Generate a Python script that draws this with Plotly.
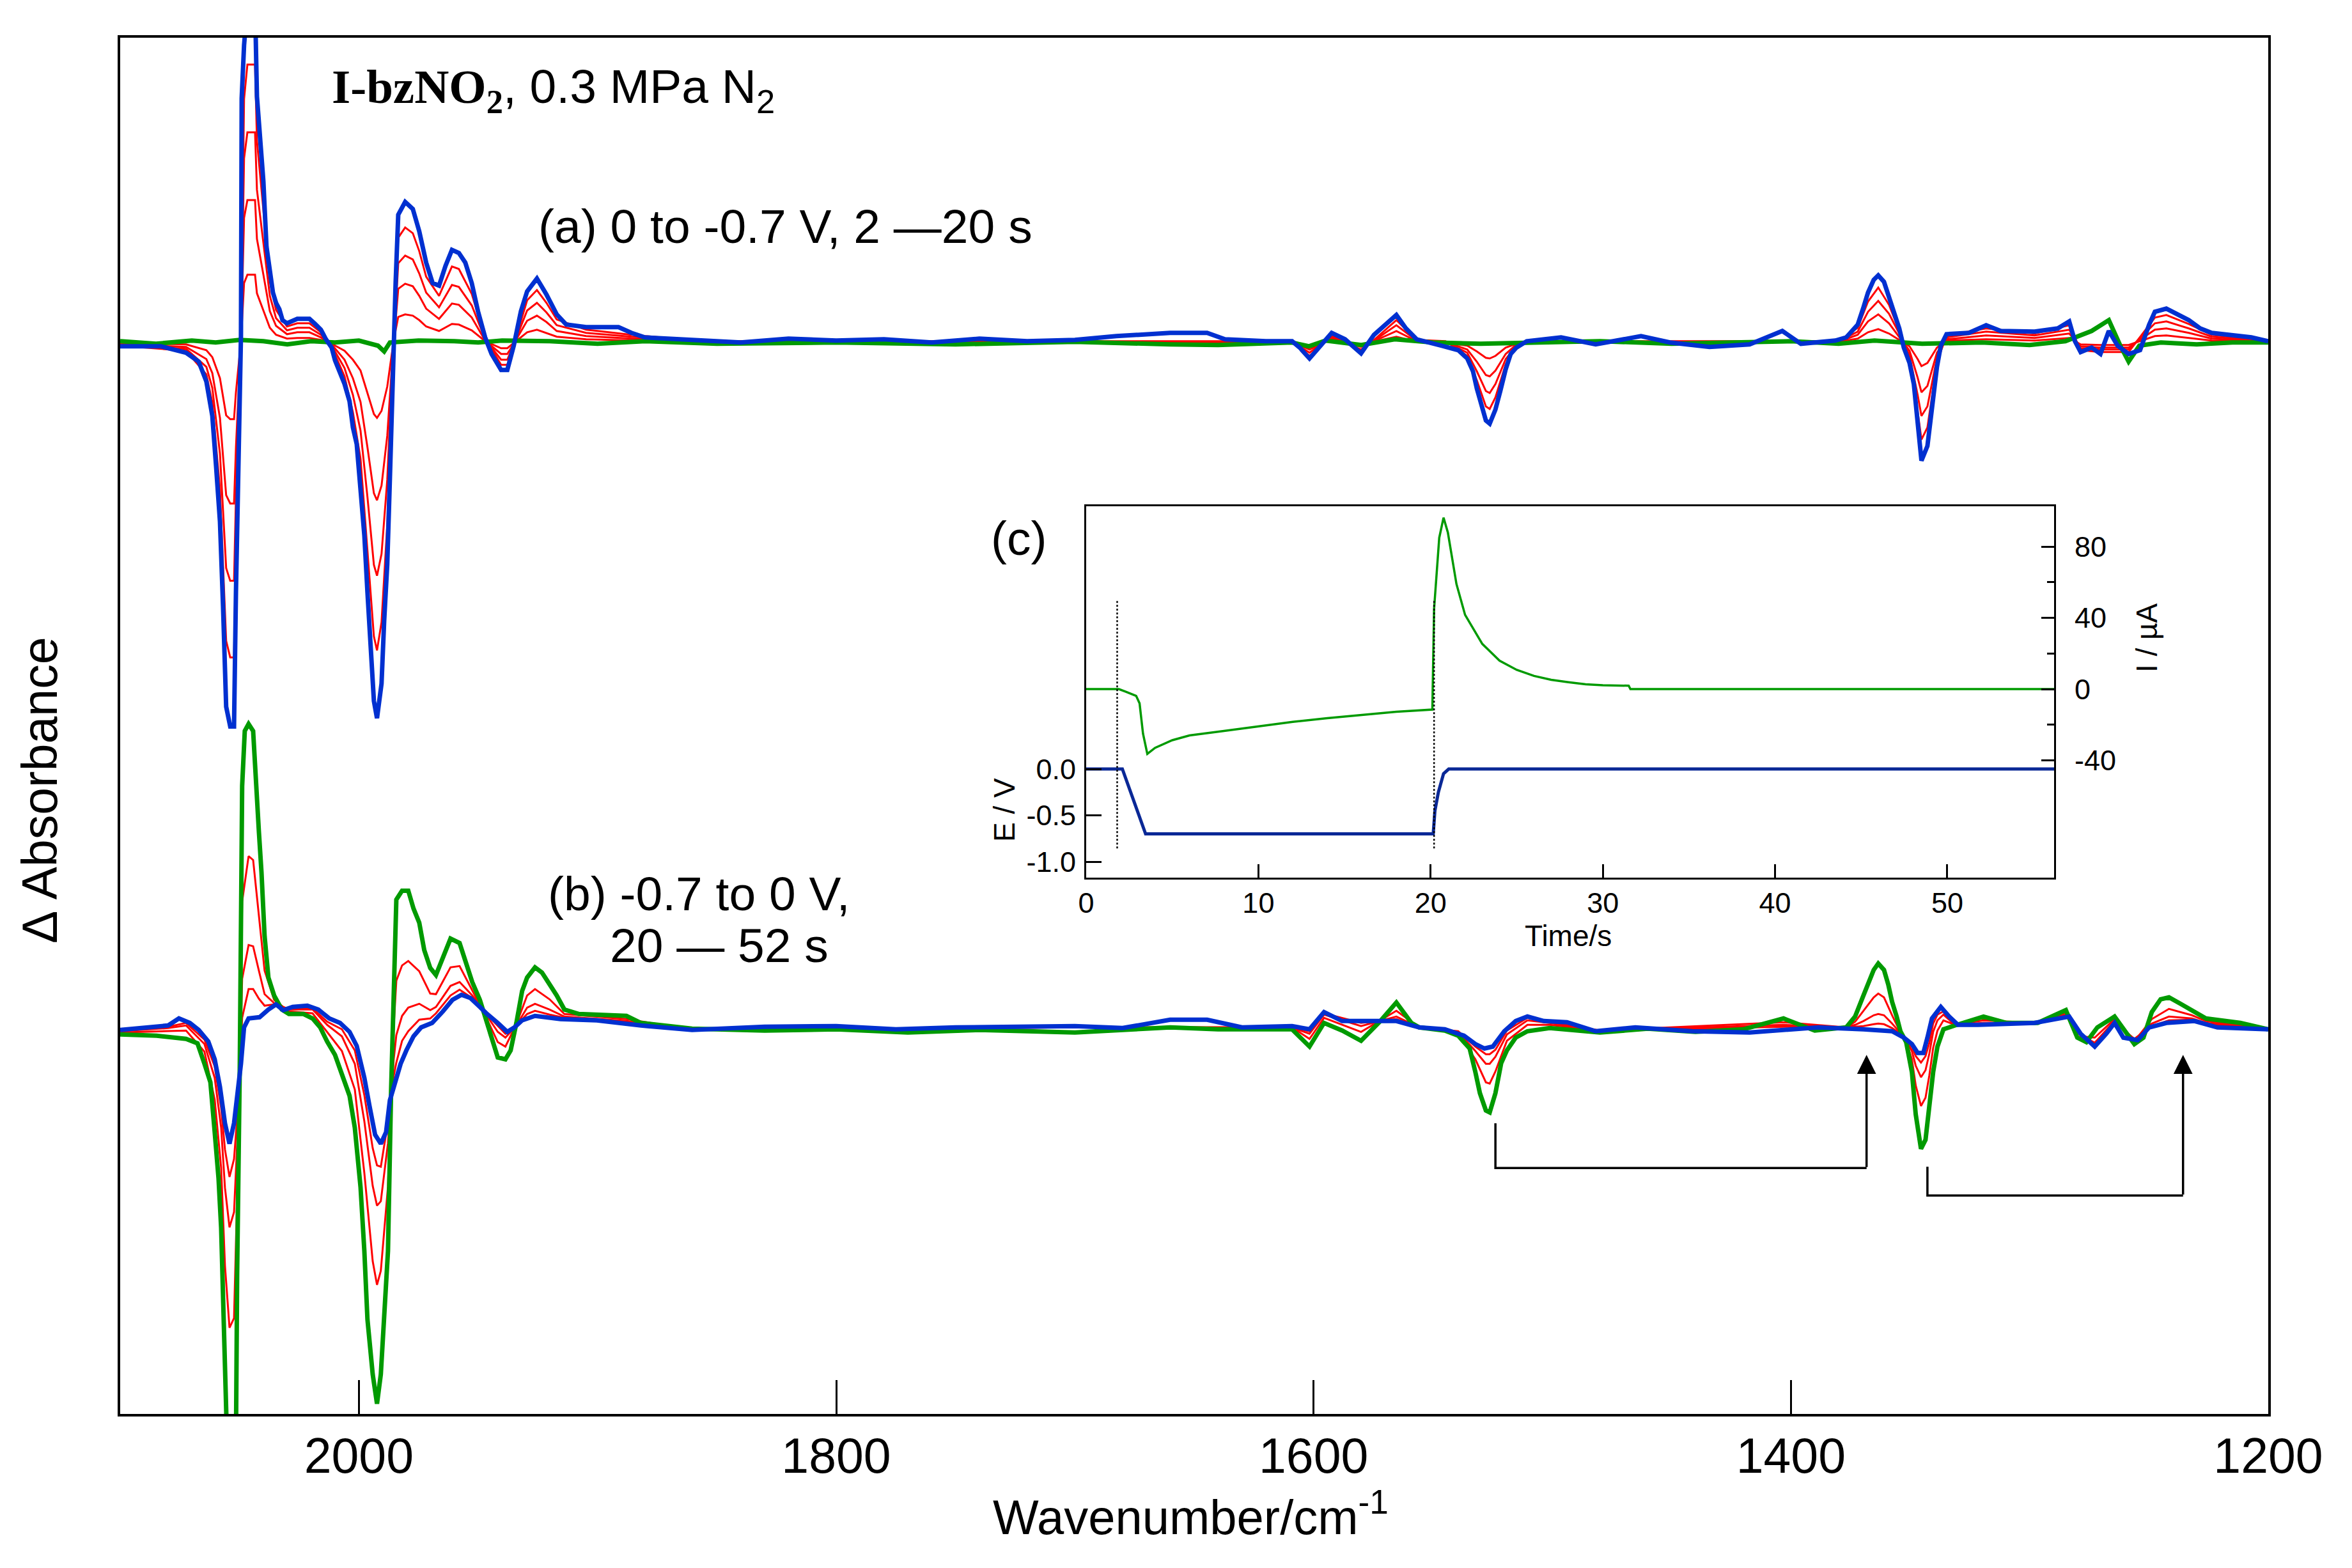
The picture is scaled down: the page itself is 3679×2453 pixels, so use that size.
import plotly.graph_objects as go

# ------------------------------------------------------------------
# DATA
# ------------------------------------------------------------------
# Panel (a): 0 to -0.7 V, 2-20 s.  Values in arbitrary Delta-A units.
wn_a_blue = [2100.0, 2082.9, 2072.4, 2067.1, 2063.9, 2061.4, 2059.8, 2058.2, 2056.9, 2055.6,
             2053.9, 2052.3, 2051.5, 2050.5, 2049.4, 2049.1, 2048.1, 2046.7, 2043.5, 2042.7,
             2041.4, 2040.0, 2038.7, 2037.3, 2036.0, 2034.7, 2033.3, 2032.0, 2030.1, 2025.8,
             2020.7, 2018.6, 2015.9, 2013.8, 2011.4, 2010.0, 2007.9, 2006.0, 2003.9, 2002.5,
             2000.9, 1999.3, 1997.7, 1996.4, 1994.8, 1993.7, 1992.4, 1990.5, 1989.4, 1988.1,
             1987.0, 1986.2, 1985.4, 1984.6, 1983.5, 1980.6, 1977.4, 1974.7, 1971.8, 1969.1,
             1966.4, 1963.7, 1961.0, 1958.1, 1955.4, 1952.7, 1950.1, 1947.1, 1944.4, 1940.4,
             1937.8, 1935.1, 1932.1, 1929.5, 1925.4, 1921.4, 1917.1, 1913.1, 1904.8, 1891.2,
             1885.8, 1880.2, 1855.3, 1840.0, 1820.0, 1800.0, 1780.0, 1760.0, 1740.0, 1720.0,
             1700.0, 1682.6, 1660.1, 1644.6, 1637.1, 1620.0, 1609.0, 1605.8, 1601.7, 1597.0,
             1592.4, 1586.8, 1580.1, 1574.7, 1565.3, 1561.3, 1556.8, 1546.3, 1539.4, 1535.6,
             1533.2, 1531.6, 1529.7, 1527.8, 1526.2, 1523.8, 1521.7, 1519.5, 1517.4, 1515.0,
             1510.7, 1496.3, 1481.8, 1462.8, 1450.7, 1434.1, 1417.3, 1403.6, 1395.8, 1381.4,
             1376.8, 1372.0, 1369.6, 1367.7, 1365.3, 1363.4, 1361.0, 1358.9, 1357.0, 1354.6,
             1352.7, 1350.3, 1348.5, 1346.9, 1345.3, 1342.8, 1340.9, 1338.8, 1337.2, 1334.8,
             1325.4, 1318.2, 1312.1, 1297.9, 1288.2, 1283.4, 1281.0, 1278.6, 1274.0, 1270.3,
             1266.8, 1263.1, 1258.5, 1253.7, 1249.9, 1247.5, 1242.7, 1238.2, 1233.3, 1228.5,
             1223.7, 1207.1, 1200.0]
abs_a_blue = [-0.06, -0.06, -0.16, -0.30, -0.61, -1.15, -1.95, -2.80, -4.14, -5.70,
              -6.01, -6.01, -3.91, -1.90, 0.10, 3.82, 4.65, 5.30, 5.30, 3.85,
              3.15, 2.52, 1.50, 1.17, 0.78, 0.62, 0.52, 0.35, 0.30, 0.37,
              0.37, 0.30, 0.20, 0.05, -0.08, -0.28, -0.48, -0.65, -0.92, -1.33,
              -1.59, -2.22, -3.02, -3.91, -4.81, -5.61, -5.88, -5.34, -4.36, -3.47,
              -2.13, -0.92, 0.33, 0.93, 2.00, 2.20, 2.09, 1.74, 1.25, 0.93,
              0.89, 1.20, 1.45, 1.40, 1.25, 0.93, 0.49, 0.08, -0.18, -0.43,
              -0.43, -0.05, 0.49, 0.80, 1.00, 0.75, 0.44, 0.28, 0.24, 0.24,
              0.15, 0.08, 0.03, 0.00, 0.06, 0.03, 0.05, 0.00, 0.06, 0.02,
              0.04, 0.10, 0.15, 0.15, 0.05, 0.02, 0.02, -0.08, -0.25, -0.05,
              0.15, 0.05, -0.17, 0.12, 0.43, 0.22, 0.05, -0.05, -0.12, -0.25,
              -0.45, -0.72, -0.98, -1.22, -1.27, -1.05, -0.75, -0.42, -0.18, -0.08,
              0.02, 0.08, -0.03, 0.10, 0.00, -0.07, -0.03, 0.18, -0.02, 0.03,
              0.08, 0.28, 0.55, 0.78, 0.98, 1.05, 0.95, 0.72, 0.48, 0.22,
              -0.08, -0.32, -0.65, -1.32, -1.85, -1.62, -0.98, -0.38, -0.05, 0.13,
              0.15, 0.27, 0.18, 0.17, 0.22, 0.33, 0.02, -0.15, -0.08, -0.18,
              0.18, -0.05, -0.18, -0.12, 0.28, 0.48, 0.53, 0.45, 0.35, 0.22,
              0.15, 0.08, 0.02]

wn_a_green = [2100, 2085, 2070, 2060, 2050, 2040, 2030, 2020, 2010, 2000,
              1992, 1989.4, 1987, 1975, 1960, 1950, 1940, 1920, 1900, 1880,
              1850, 1800, 1750, 1700, 1660, 1640, 1609, 1602, 1595, 1580,
              1566, 1550, 1530, 1510, 1480, 1450, 1420, 1400, 1380, 1365,
              1345, 1320, 1300, 1285, 1274, 1266.8, 1262, 1258.5, 1254, 1245,
              1230, 1215, 1200]
abs_a_green = [0.02, -0.02, 0.03, 0.00, 0.04, 0.02, -0.03, 0.02, 0.00, 0.03,
               -0.05, -0.14, 0.00, 0.03, 0.02, 0.00, 0.03, 0.02, -0.02, 0.02,
               -0.02, 0.00, -0.03, 0.01, -0.03, -0.04, 0.00, -0.06, 0.03, -0.04,
               0.05, 0.00, -0.02, 0.00, 0.02, -0.02, 0.00, 0.02, -0.02, 0.03,
               -0.02, 0.00, -0.04, 0.02, 0.18, 0.35, -0.05, -0.30, -0.05, 0.00,
               -0.03, 0.00, 0.00]

wn_a_red = [2100.0, 2072.4, 2063.9, 2061.4, 2058.2, 2055.6, 2053.9, 2052.3, 2051.5, 2050.5,
            2049.4, 2048.1, 2046.7, 2043.5, 2042.7, 2040.0, 2037.3, 2034.7, 2030.1, 2025.8,
            2020.7, 2015.9, 2011.4, 2006.0, 2002.5, 1999.3, 1996.4, 1993.7, 1992.4, 1990.5,
            1988.1, 1986.2, 1984.6, 1983.5, 1980.6, 1977.4, 1974.7, 1971.8, 1966.4, 1961.0,
            1958.1, 1952.7, 1947.1, 1940.4, 1937.8, 1935.1, 1929.5, 1925.4, 1921.4, 1917.1,
            1904.8, 1885.8, 1855.3, 1609.0, 1601.7, 1592.4, 1580.1, 1565.3, 1556.8, 1544.7,
            1535.6, 1531.6, 1527.8, 1526.2, 1523.8, 1519.5, 1515.0, 1510.7, 1380.0, 1372.0,
            1367.7, 1363.4, 1358.9, 1354.6, 1350.3, 1346.9, 1345.3, 1342.8, 1338.8, 1334.8,
            1318.2, 1297.9, 1283.4, 1278.6, 1270.3, 1258.5, 1247.5, 1242.7, 1233.3, 1223.7,
            1200.0]
abs_a_red_4s = [-0.01, -0.03, -0.12, -0.23, -0.56, -1.14, -1.20, -1.20, -0.78, -0.38,
                0.02, 0.93, 1.06, 1.06, 0.77, 0.50, 0.23, 0.12, 0.06, 0.07,
                0.07, 0.04, -0.02, -0.13, -0.27, -0.44, -0.78, -1.12, -1.18, -1.07,
                -0.69, -0.18, 0.19, 0.40, 0.44, 0.42, 0.35, 0.25, 0.18, 0.29,
                0.28, 0.19, 0.02, -0.09, -0.09, -0.01, 0.16, 0.20, 0.15, 0.09,
                0.05, 0.03, 0.00, 0.00, -0.05, 0.03, -0.03, 0.09, 0.01, 0.00,
                -0.05, -0.14, -0.24, -0.25, -0.21, -0.08, -0.02, 0.00, 0.01, 0.06,
                0.16, 0.21, 0.14, 0.04, -0.06, -0.26, -0.37, -0.32, -0.08, 0.03,
                0.05, 0.03, 0.07, -0.03, -0.04, -0.04, 0.10, 0.11, 0.07, 0.03,
                0.00]
abs_a_red_8s = [-0.03, -0.07, -0.26, -0.48, -1.18, -2.39, -2.52, -2.52, -1.64, -0.80,
                0.04, 1.95, 2.23, 2.23, 1.62, 1.06, 0.49, 0.26, 0.13, 0.16,
                0.16, 0.08, -0.03, -0.27, -0.56, -0.93, -1.64, -2.36, -2.47, -2.24,
                -1.46, -0.39, 0.39, 0.84, 0.92, 0.88, 0.73, 0.53, 0.37, 0.61,
                0.59, 0.39, 0.03, -0.18, -0.18, -0.02, 0.34, 0.42, 0.32, 0.18,
                0.10, 0.06, 0.01, 0.01, -0.11, 0.06, -0.07, 0.18, 0.02, 0.01,
                -0.11, -0.30, -0.51, -0.53, -0.44, -0.18, -0.03, 0.01, 0.01, 0.12,
                0.33, 0.44, 0.30, 0.09, -0.13, -0.55, -0.78, -0.68, -0.16, 0.05,
                0.11, 0.07, 0.14, -0.06, -0.08, -0.08, 0.20, 0.22, 0.15, 0.06,
                0.01]
abs_a_red_12s = [-0.04, -0.10, -0.38, -0.71, -1.74, -3.53, -3.73, -3.73, -2.42, -1.18,
                 0.06, 2.88, 3.29, 3.29, 2.39, 1.56, 0.73, 0.38, 0.19, 0.23,
                 0.23, 0.12, -0.05, -0.40, -0.82, -1.38, -2.42, -3.48, -3.65, -3.31,
                 -2.15, -0.57, 0.58, 1.24, 1.36, 1.30, 1.08, 0.78, 0.55, 0.90,
                 0.87, 0.58, 0.05, -0.27, -0.27, -0.03, 0.50, 0.62, 0.47, 0.27,
                 0.15, 0.09, 0.02, 0.01, -0.16, 0.09, -0.11, 0.27, 0.03, 0.01,
                 -0.16, -0.45, -0.76, -0.79, -0.65, -0.26, -0.05, 0.01, 0.02, 0.17,
                 0.48, 0.65, 0.45, 0.14, -0.20, -0.82, -1.15, -1.00, -0.24, 0.08,
                 0.17, 0.11, 0.20, -0.09, -0.11, -0.11, 0.30, 0.33, 0.22, 0.09,
                 0.01]
abs_a_red_16s = [-0.05, -0.13, -0.50, -0.94, -2.30, -4.67, -4.93, -4.93, -3.21, -1.56,
                 0.08, 3.81, 4.35, 4.35, 3.16, 2.07, 0.96, 0.51, 0.25, 0.30,
                 0.30, 0.16, -0.07, -0.53, -1.09, -1.82, -3.21, -4.60, -4.82, -4.38,
                 -2.85, -0.75, 0.76, 1.64, 1.80, 1.71, 1.43, 1.03, 0.73, 1.19,
                 1.15, 0.76, 0.07, -0.35, -0.35, -0.04, 0.66, 0.82, 0.62, 0.36,
                 0.20, 0.12, 0.02, 0.02, -0.21, 0.12, -0.14, 0.35, 0.04, 0.02,
                 -0.21, -0.59, -1.00, -1.04, -0.86, -0.34, -0.07, 0.02, 0.02, 0.23,
                 0.64, 0.86, 0.59, 0.18, -0.26, -1.08, -1.52, -1.33, -0.31, 0.11,
                 0.22, 0.14, 0.27, -0.12, -0.15, -0.15, 0.39, 0.43, 0.29, 0.12,
                 0.02]

# Panel (b): -0.7 to 0 V, 20-52 s.
wn_b_green = [2100.0, 2084.7, 2072.4, 2067.6, 2064.7, 2062.2, 2060.4, 2058.8, 2057.7, 2056.6,
              2054.8, 2051.6, 2051.0, 2049.9, 2048.9, 2047.8, 2046.2, 2044.3, 2043.2, 2041.9,
              2040.8, 2039.5, 2037.9, 2035.5, 2032.3, 2029.3, 2023.2, 2019.4, 2016.2, 2013.3,
              2010.0, 2007.1, 2003.9, 2001.7, 1999.3, 1997.7, 1996.4, 1994.2, 1992.4, 1990.8,
              1989.4, 1987.8, 1986.5, 1985.4, 1984.3, 1981.9, 1979.3, 1977.1, 1974.7, 1972.6,
              1970.1, 1967.7, 1964.8, 1961.6, 1957.8, 1954.9, 1952.5, 1949.3, 1946.3, 1943.9,
              1941.8, 1938.6, 1936.4, 1934.0, 1931.6, 1929.5, 1926.2, 1923.3, 1920.1, 1917.1,
              1913.9, 1907.8, 1887.9, 1881.8, 1860.4, 1830.0, 1800.0, 1770.0, 1740.0, 1700.0,
              1660.0, 1640.0, 1609.0, 1601.7, 1595.6, 1588.0, 1580.1, 1572.0, 1565.3, 1559.0,
              1555.7, 1545.0, 1539.4, 1534.6, 1532.2, 1530.3, 1527.8, 1526.2, 1523.8, 1521.4,
              1519.0, 1515.3, 1510.4, 1501.1, 1480.0, 1460.0, 1440.0, 1420.0, 1403.1, 1390.0,
              1376.8, 1373.1, 1369.6, 1367.2, 1365.3, 1363.4, 1361.0, 1359.2, 1357.6, 1355.7,
              1354.1, 1351.7, 1349.3, 1347.7, 1345.5, 1343.6, 1342.0, 1340.4, 1338.6, 1336.1,
              1331.3, 1319.3, 1309.6, 1296.6, 1284.8, 1280.0, 1276.2, 1271.6, 1264.4, 1256.1,
              1252.3, 1248.8, 1245.1, 1241.6, 1236.8, 1232.0, 1226.1, 1211.7, 1200.0]
abs_b_green = [-0.06, -0.08, -0.13, -0.20, -0.52, -0.81, -1.59, -2.31, -3.09, -5.02,
               -7.00, -7.00, -3.81, -0.59, 3.83, 4.69, 4.80, 4.69, 3.83, 3.12,
               2.48, 1.48, 0.83, 0.55, 0.33, 0.26, 0.26, 0.19, 0.05, -0.17,
               -0.38, -0.67, -1.02, -1.52, -2.45, -3.45, -4.52, -5.38, -5.84, -5.38,
               -4.52, -3.45, -0.95, 0.83, 2.05, 2.19, 2.19, 1.91, 1.69, 1.26,
               0.98, 0.87, 1.16, 1.44, 1.37, 1.05, 0.76, 0.48, 0.12, -0.17,
               -0.42, -0.45, -0.31, 0.12, 0.62, 0.83, 0.99, 0.91, 0.73, 0.55,
               0.33, 0.26, 0.23, 0.12, 0.03, 0.00, 0.02, -0.03, 0.01, -0.03,
               0.05, 0.02, 0.02, -0.25, 0.12, 0.00, -0.16, 0.15, 0.44, 0.12,
               0.05, 0.00, -0.08, -0.28, -0.65, -0.98, -1.25, -1.28, -0.98, -0.51,
               -0.31, -0.11, -0.01, 0.04, -0.03, 0.03, -0.02, 0.02, 0.19, 0.00,
               0.05, 0.22, 0.55, 0.79, 0.95, 1.05, 0.95, 0.72, 0.45, 0.22,
               -0.01, -0.18, -0.65, -1.31, -1.85, -1.71, -1.21, -0.65, -0.25, 0.02,
               0.08, 0.22, 0.12, 0.12, 0.32, -0.11, -0.18, 0.05, 0.22, -0.21,
               -0.11, 0.29, 0.49, 0.52, 0.42, 0.32, 0.19, 0.12, 0.02]

wn_b_blue = [2100.0, 2079.9, 2075.4, 2070.8, 2067.1, 2063.1, 2060.4, 2058.2, 2056.1, 2054.2,
             2052.3, 2050.7, 2049.4, 2048.1, 2046.2, 2041.6, 2037.9, 2034.7, 2031.7, 2027.7,
             2021.6, 2017.0, 2012.4, 2007.9, 2003.9, 2000.9, 1997.7, 1995.6, 1993.2, 1990.8,
             1988.6, 1987.0, 1984.6, 1982.5, 1980.1, 1977.1, 1973.9, 1969.3, 1964.8, 1960.8,
             1957.0, 1953.3, 1949.3, 1946.3, 1941.8, 1937.8, 1934.8, 1931.6, 1926.2, 1915.5,
             1900.3, 1881.8, 1860.4, 1830.0, 1800.0, 1775.0, 1750.0, 1700.0, 1680.0, 1660.1,
             1644.6, 1630.0, 1609.0, 1601.7, 1595.6, 1588.0, 1580.1, 1565.3, 1555.7, 1545.0,
             1537.0, 1532.2, 1528.4, 1524.9, 1520.1, 1515.3, 1510.4, 1503.5, 1493.8, 1481.8,
             1465.2, 1441.4, 1417.3, 1388.6, 1369.6, 1357.6, 1352.7, 1349.3, 1346.9, 1344.5,
             1342.8, 1340.9, 1337.2, 1333.7, 1330.0, 1321.7, 1297.9, 1283.4, 1278.6, 1272.7,
             1267.9, 1264.4, 1260.7, 1254.7, 1249.9, 1242.7, 1230.9, 1221.3, 1200.0]
abs_b_blue = [0.01, 0.08, 0.19, 0.12, 0.01, -0.17, -0.45, -0.88, -1.45, -1.77,
              -1.45, -0.95, -0.52, 0.05, 0.19, 0.21, 0.33, 0.41, 0.32, 0.37,
              0.39, 0.33, 0.19, 0.12, -0.02, -0.24, -0.74, -1.17, -1.63, -1.77,
              -1.59, -1.09, -0.81, -0.52, -0.31, -0.09, 0.05, 0.12, 0.30, 0.48,
              0.56, 0.51, 0.37, 0.26, 0.12, -0.02, 0.05, 0.16, 0.23, 0.18,
              0.16, 0.08, 0.01, 0.06, 0.07, 0.02, 0.05, 0.07, 0.04, 0.17,
              0.17, 0.05, 0.07, 0.02, 0.29, 0.15, 0.15, 0.15, 0.05, 0.02,
              -0.08, -0.21, -0.28, -0.25, -0.01, 0.15, 0.22, 0.15, 0.13, -0.01,
              0.05, -0.01, -0.03, 0.05, 0.02, -0.01, -0.11, -0.21, -0.35, -0.35,
              -0.11, 0.19, 0.37, 0.22, 0.09, 0.09, 0.12, 0.22, -0.05, -0.25,
              -0.05, 0.12, -0.11, -0.15, 0.05, 0.12, 0.15, 0.05, 0.02]

wn_b_red = [2100.0, 2079.9, 2072.4, 2064.7, 2060.4, 2057.7, 2056.1, 2054.2, 2052.3, 2051.0,
            2049.9, 2048.9, 2046.2, 2044.3, 2041.9, 2039.5, 2035.5, 2029.3, 2019.4, 2013.3,
            2007.1, 2001.7, 1997.7, 1994.2, 1992.4, 1990.8, 1987.8, 1986.5, 1985.4, 1984.3,
            1981.9, 1979.3, 1974.7, 1970.1, 1967.7, 1961.6, 1957.8, 1952.5, 1946.3, 1941.8,
            1938.6, 1934.0, 1929.5, 1926.2, 1920.1, 1913.9, 1887.9, 1860.4, 1700.0, 1609.0,
            1601.7, 1595.6, 1580.1, 1565.3, 1555.7, 1539.4, 1532.2, 1527.8, 1526.2, 1523.8,
            1519.0, 1510.4, 1501.1, 1480.0, 1403.0, 1376.8, 1373.1, 1369.6, 1365.3, 1363.4,
            1361.0, 1357.6, 1354.1, 1351.7, 1349.3, 1347.7, 1345.5, 1343.6, 1342.0, 1340.4,
            1338.6, 1336.1, 1331.3, 1319.3, 1297.9, 1284.8, 1278.6, 1272.7, 1264.4, 1256.1,
            1248.8, 1241.6, 1232.0, 1226.1, 1200.0]
abs_b_red_24s = [-0.03, -0.01, 0.00, -0.33, -1.08, -2.15, -3.68, -4.65, -4.50, -2.59,
                 -0.64, 2.02, 2.73, 2.67, 1.81, 0.94, 0.48, 0.30, 0.27, -0.02,
                 -0.32, -0.92, -2.23, -3.61, -3.98, -3.76, -2.44, -0.97, 0.06, 0.78,
                 1.02, 1.09, 0.93, 0.58, 0.57, 0.99, 1.01, 0.63, 0.18, -0.18,
                 -0.25, 0.10, 0.55, 0.65, 0.49, 0.26, 0.18, 0.02, 0.05, 0.05,
                 -0.13, 0.20, -0.02, 0.31, 0.05, -0.04, -0.45, -0.81, -0.83, -0.64,
                 -0.16, 0.09, 0.09, 0.00, 0.13, 0.05, 0.14, 0.31, 0.52, 0.58,
                 0.52, 0.24, -0.03, -0.16, -0.45, -0.86, -1.18, -1.05, -0.70, -0.27,
                 0.00, 0.16, 0.09, 0.16, 0.12, 0.28, -0.09, -0.11, 0.18, -0.17,
                 0.18, 0.34, 0.24, 0.15, 0.02]
abs_b_red_28s = [-0.01, 0.04, 0.08, -0.21, -0.74, -1.52, -2.46, -3.08, -2.84, -1.78,
                 -0.67, 0.81, 1.34, 1.32, 0.94, 0.57, 0.43, 0.33, 0.33, 0.09,
                 -0.09, -0.52, -1.42, -2.43, -2.74, -2.67, -1.76, -0.99, -0.45, -0.07,
                 0.23, 0.36, 0.42, 0.32, 0.37, 0.70, 0.76, 0.55, 0.23, -0.02,
                 -0.11, 0.08, 0.36, 0.42, 0.33, 0.22, 0.15, 0.01, 0.05, 0.05,
                 -0.05, 0.25, 0.07, 0.22, 0.05, -0.02, -0.32, -0.52, -0.52, -0.41,
                 -0.06, 0.16, 0.12, 0.00, 0.09, 0.05, 0.09, 0.15, 0.24, 0.26,
                 0.24, 0.11, -0.04, -0.14, -0.32, -0.55, -0.73, -0.62, -0.36, -0.02,
                 0.16, 0.25, 0.09, 0.12, 0.12, 0.25, -0.07, -0.19, 0.15, -0.14,
                 0.11, 0.22, 0.19, 0.12, 0.02]
abs_b_red_32s = [0.00, 0.06, 0.12, -0.14, -0.56, -1.21, -1.86, -2.29, -2.01, -1.37,
                 -0.69, 0.20, 0.65, 0.65, 0.50, 0.39, 0.41, 0.34, 0.35, 0.14,
                 0.02, -0.31, -1.01, -1.84, -2.11, -2.13, -1.43, -1.00, -0.71, -0.50,
                 -0.16, -0.01, 0.17, 0.19, 0.27, 0.55, 0.64, 0.51, 0.25, 0.07,
                 -0.05, 0.08, 0.26, 0.31, 0.25, 0.20, 0.13, 0.01, 0.05, 0.05,
                 -0.01, 0.27, 0.12, 0.18, 0.05, -0.01, -0.25, -0.37, -0.37, -0.30,
                 0.00, 0.20, 0.14, 0.00, 0.06, 0.05, 0.06, 0.07, 0.10, 0.11,
                 0.10, 0.04, -0.05, -0.14, -0.25, -0.40, -0.50, -0.40, -0.19, 0.11,
                 0.25, 0.30, 0.09, 0.10, 0.12, 0.23, -0.06, -0.23, 0.13, -0.13,
                 0.07, 0.16, 0.17, 0.11, 0.02]

# Inset (c): current and potential transients
t_current = [0, 1.9, 2.3, 2.9, 3.1, 3.3, 3.55, 4.0, 5, 6, 8, 10, 12, 14, 16, 18, 20.1,
             20.2, 20.5, 20.75, 21.0, 21.5, 22, 23, 24, 25, 26, 27, 28, 29, 30, 31, 31.5,
             31.6, 56.2]
i_current = [0, 0, -1.5, -3.8, -8, -25, -36.4, -33, -28.7, -26, -23.5, -21, -18.4, -16.3,
             -14.6, -12.7, -11.5, 45, 85, 96.3, 88, 59, 41.7, 25.4, 16, 10.8, 7.4, 5.2,
             3.9, 2.7, 2.2, 1.9, 1.9, 0, 0]
t_potential = [0, 2.1, 3.45, 20.15, 20.25, 20.45, 20.75, 21.05, 56.2]
e_potential = [0.0, 0.0, -0.70, -0.70, -0.45, -0.25, -0.05, 0.0, 0.0]
t_switch = [1.8, 20.2]

# Axis ticks
main_tickvals = [2000, 1800, 1600, 1400, 1200]
main_ticktext = ["2000", "1800", "1600", "1400", "1200"]
inset_t_ticks = [0, 10, 20, 30, 40, 50]
e_ticks = [0.0, -0.5, -1.0]
e_ticktext = ["0.0", "-0.5", "-1.0"]
i_ticks = [-40, 0, 40, 80]
i_ticktext = ["-40", "0", "40", "80"]

# Correlated band pairs (arrows)
pair_1 = (1523.8, 1368.3)
pair_2 = (1342.8, 1235.7)

# ------------------------------------------------------------------
# LAYOUT CONSTANTS (positions / styles)
# ------------------------------------------------------------------
BODY = 8                     # browser default body margin
W, H = 3679 - 2 * BODY, 2453 - 2 * BODY
PL, PR, PT, PB = 188, 3548, 59, 2212   # plot area in page pixels
OFFSET_A = 10.77
OFFSET_B = 0.0

RED = "#ff0000"
GREEN = "#009a00"
BLUE = "#0030d0"
NAVY = "#0a2896"
SANS = "Liberation Sans, Arial, sans-serif"


def px_x(px):
    return (px - PL) / (PR - PL)


def px_y(py):
    return (PB - py) / (PB - PT)


def shift(vals, off):
    return [v + off for v in vals]


fig = go.Figure()

# panel (a)
for reds in [abs_a_red_4s, abs_a_red_8s, abs_a_red_12s, abs_a_red_16s]:
    fig.add_trace(go.Scatter(x=wn_a_red, y=shift(reds, OFFSET_A), mode="lines",
                             line=dict(color=RED, width=3), hoverinfo="skip"))
fig.add_trace(go.Scatter(x=wn_a_green, y=shift(abs_a_green, OFFSET_A), mode="lines",
                         line=dict(color=GREEN, width=7), hoverinfo="skip"))
fig.add_trace(go.Scatter(x=wn_a_blue, y=shift(abs_a_blue, OFFSET_A), mode="lines",
                         line=dict(color=BLUE, width=7), hoverinfo="skip"))
# panel (b)
for reds in [abs_b_red_24s, abs_b_red_28s, abs_b_red_32s]:
    fig.add_trace(go.Scatter(x=wn_b_red, y=shift(reds, OFFSET_B), mode="lines",
                             line=dict(color=RED, width=3), hoverinfo="skip"))
fig.add_trace(go.Scatter(x=wn_b_green, y=shift(abs_b_green, OFFSET_B), mode="lines",
                         line=dict(color=GREEN, width=7), hoverinfo="skip"))
fig.add_trace(go.Scatter(x=wn_b_blue, y=shift(abs_b_blue, OFFSET_B), mode="lines",
                         line=dict(color=BLUE, width=7), hoverinfo="skip"))

# inset traces
fig.add_trace(go.Scatter(x=t_current, y=i_current, mode="lines", xaxis="x2", yaxis="y3",
                         line=dict(color=GREEN, width=3.5), hoverinfo="skip"))
fig.add_trace(go.Scatter(x=t_potential, y=e_potential, mode="lines", xaxis="x2", yaxis="y2",
                         line=dict(color=NAVY, width=5), hoverinfo="skip"))

shapes = []
for ts in t_switch:
    shapes.append(dict(type="line", xref="x2", yref="y3", x0=ts, x1=ts, y0=49.5, y1=-90.5,
                       line=dict(color="black", width=2.5, dash="dot")))
# brackets for band pairs
for (w1, w2), ystart, ylow in [(pair_1, -1.45, -2.15), (pair_2, -2.13, -2.58)]:
    shapes.append(dict(type="path", xref="x", yref="y",
                       path=f"M {w1},{ystart} L {w1},{ylow} L {w2},{ylow}",
                       line=dict(color="black", width=3.5)))

annotations = []
for (w1, w2), ylow in [(pair_1, -2.15), (pair_2, -2.58)]:
    annotations.append(dict(x=w2, y=-0.38, ax=w2, ay=ylow, xref="x", yref="y",
                            axref="x", ayref="y", text="", showarrow=True,
                            arrowhead=2, arrowsize=1.7, arrowwidth=3.5, arrowcolor="black",
                            standoff=0))


def txt(text, px, py, size, xanchor="left", angle=0, yanchor="middle"):
    annotations.append(dict(text=text, x=px_x(px), y=px_y(py), xref="paper", yref="paper",
                            showarrow=False, xanchor=xanchor, yanchor=yanchor,
                            textangle=angle, font=dict(family=SANS, size=size, color="black")))


txt('<b><span style="font-family:Liberation Serif, Times New Roman, serif">I-bzNO<sub>2</sub></span></b>, 0.3 MPa N<sub>2</sub>',
    517, 140, 75)
txt("(a) 0 to -0.7 V, 2 \u201420 s", 840, 354, 75)
txt("(b) -0.7 to 0 V,", 855, 1398, 75)
txt("20 \u2014 52 s", 952, 1479, 75)
txt("(c)", 1548, 842, 75)
txt("Wavenumber/cm<sup>-1</sup>", 1862, 2368, 76, xanchor="center")
txt("\u0394 Absorbance", 62, 1236, 77, xanchor="center", angle=-90)
txt("Time/s", 2453, 1464, 46, xanchor="center")
txt("E / V", 1571, 1267, 46, xanchor="center", angle=-90)
txt("I / \u00b5A", 3358, 998, 46, xanchor="center", angle=-90)

inset_x = [px_x(1699), px_x(3213)]
inset_y = [px_y(1373), px_y(792)]

fig.update_layout(
    width=W, height=H, autosize=False,
    margin=dict(l=PL - BODY, r=W - (PR - BODY), t=PT - BODY, b=H - (PB - BODY), pad=0),
    paper_bgcolor="white", plot_bgcolor="white",
    showlegend=False,
    font=dict(family=SANS, color="black"),
    xaxis=dict(domain=[0, 1], range=[2100, 1200], anchor="y",
               tickvals=main_tickvals, ticktext=main_ticktext,
               ticks="inside", ticklen=53, tickwidth=3, tickcolor="black",
               showline=True, linewidth=4, linecolor="black", mirror=True,
               showgrid=False, zeroline=False, tickfont=dict(size=77),
               ticklabelstandoff=-4),
    yaxis=dict(domain=[0, 1], range=[-6.0, 15.54], anchor="x",
               showticklabels=False, ticks="", showline=True, linewidth=4,
               linecolor="black", mirror=True, showgrid=False, zeroline=False),
    xaxis2=dict(domain=inset_x, range=[0, 56.2], anchor="y2",
                tickvals=inset_t_ticks, ticks="inside", ticklen=21, tickwidth=3,
                tickcolor="black", showline=True, linewidth=3, linecolor="black",
                mirror=True, showgrid=False, zeroline=False, tickfont=dict(size=45),
                ticklabelstandoff=-2),
    yaxis2=dict(domain=inset_y, range=[-1.172, 2.834], anchor="x2", side="left",
                tickvals=e_ticks, ticktext=e_ticktext, ticks="inside", ticklen=24,
                tickwidth=3, tickcolor="black", showline=True, linewidth=3,
                linecolor="black", mirror=True, showgrid=False, zeroline=False,
                tickfont=dict(size=45), ticklabelstandoff=4),
    yaxis3=dict(range=[-105.9, 102.7], overlaying="y2", anchor="x2", side="right",
                tickvals=i_ticks, ticktext=i_ticktext, ticks="inside", ticklen=20,
                tickwidth=3, tickcolor="black", showline=True, linewidth=3,
                linecolor="black", showgrid=False, zeroline=False,
                tickfont=dict(size=45), ticklabelstandoff=20,
                minor=dict(tickvals=[-20, 20, 60], ticks="inside", ticklen=11,
                           tickwidth=3, tickcolor="black")),
    shapes=shapes,
    annotations=annotations,
)

fig.write_html("out.html")
